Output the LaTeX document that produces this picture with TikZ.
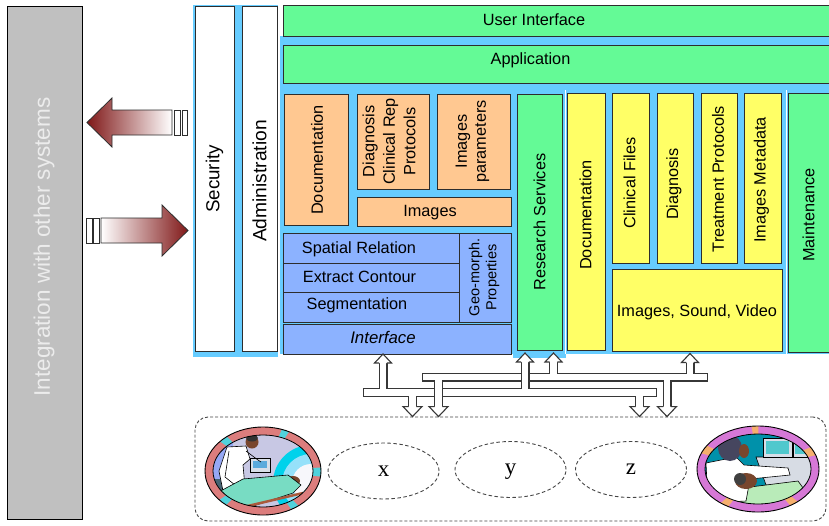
\documentclass[tikz,border=0pt]{standalone}
\usepackage{fontspec}
\setmainfont{Liberation Sans}
\newfontfamily\letterfont{Liberation Serif}
\usetikzlibrary{shapes.geometric,calc}

\definecolor{panelblue}{RGB}{102,204,255}
\definecolor{uigreen}{RGB}{100,250,150}
\definecolor{orangefill}{RGB}{255,200,145}
\definecolor{layerfill}{RGB}{140,178,255}
\definecolor{yellowfill}{RGB}{255,255,102}
\definecolor{sidegray}{RGB}{192,192,192}
\definecolor{sidetext}{RGB}{236,236,236}
\definecolor{edge}{RGB}{45,45,45}
\definecolor{arrred}{RGB}{128,24,24}
\definecolor{arrmid}{RGB}{205,160,160}
\definecolor{pipec}{RGB}{55,55,55}
\definecolor{zonegray}{RGB}{70,70,70}
% clip-art colours
\definecolor{ringsalmon}{RGB}{220,125,125}
\definecolor{ringcyan}{RGB}{80,210,220}
\definecolor{scenelav}{RGB}{200,200,228}
\definecolor{wallblue}{RGB}{150,168,245}
\definecolor{darkteal}{RGB}{70,100,115}
\definecolor{skin}{RGB}{120,70,45}
\definecolor{monitorgray}{RGB}{215,222,232}
\definecolor{screenblue}{RGB}{90,170,220}
\definecolor{scancyan}{RGB}{0,210,235}
\definecolor{scanlight}{RGB}{150,225,250}
\definecolor{mint}{RGB}{120,220,195}
\definecolor{bedbrown}{RGB}{170,90,60}
\definecolor{ringmag}{RGB}{214,120,214}
\definecolor{ringorange}{RGB}{245,175,110}
\definecolor{roomteal}{RGB}{0,145,170}
\definecolor{consolegray}{RGB}{215,220,228}
\definecolor{screencyan}{RGB}{80,200,205}
\definecolor{bedgreen}{RGB}{185,235,185}
\definecolor{hairslate}{RGB}{70,70,95}

\tikzset{
  boxbase/.style={draw=edge, line width=0.9pt, inner sep=0pt, outer sep=0pt},
  whitebox/.style={boxbase, fill=white},
  greenbox/.style={boxbase, fill=uigreen},
  orangebox/.style={boxbase, fill=orangefill},
  layerbox/.style={boxbase, fill=layerfill},
  yellowbox/.style={boxbase, fill=yellowfill},
  sidebox/.style={boxbase, fill=sidegray, draw=black},
  lab/.style={inner sep=0pt, font=\fontsize{16.3}{20}\selectfont},
  vlab/.style={lab, rotate=90, align=center},
  biglab/.style={inner sep=0pt, rotate=90, font=\fontsize{18.8}{22}\selectfont},
  pipeout/.style={draw=pipec, line width=9pt},
  pipein/.style={draw=white, line width=6.8pt},
  pipehead/.style={fill=white, draw=pipec, line width=1.1pt, line join=miter},
  bigarrow/.style={draw=edge, line width=0.8pt},
  tailbar/.style={draw=edge, fill=white, line width=0.8pt},
  zone/.style={ellipse, draw=zonegray, dash pattern=on 3.5pt off 2.5pt, line width=0.9pt,
    minimum width=111pt, minimum height=56pt, inner sep=0pt, text height=10pt, text depth=0pt,
    font=\letterfont\fontsize{23}{24}\selectfont},
  field/.style={draw=zonegray, dash pattern=on 3pt off 2pt, line width=0.9pt,
    rounded corners=13pt, inner sep=0pt},
  outline/.style={draw=black, line width=0.6pt}
}

% box from its corners: style, name, x1, y1, x2, y2
\newcommand\blockat[6]{\node[#1, minimum width={#5-#3}, minimum height={#6-#4}] (#2) at ({(#3+#5)/2},{(#4+#6)/2}) {};}
% hollow arrow heads of the data pipes
\newcommand\upheadat[1]{\filldraw[pipehead] ($(#1)+(-3.9,9)$) -- ($(#1)+(-8.5,9)$) -- (#1) -- ($(#1)+(8.5,9)$) -- ($(#1)+(3.9,9)$);}
\newcommand\downheadat[1]{\filldraw[pipehead] ($(#1)+(-3.9,-10)$) -- ($(#1)+(-9.5,-10)$) -- (#1) -- ($(#1)+(9.5,-10)$) -- ($(#1)+(3.9,-10)$);}

\begin{document}
\begin{tikzpicture}[x=1pt,y=-1pt]
\useasboundingbox (0,0) rectangle (829,525);
\fill[white] (0,0) rectangle (829,525);

% ---- external integration column
\blockat{sidebox}{side}{7}{6}{82}{519}
\node[biglab, text=sidetext, font=\fontsize{22.5}{26}\selectfont] (side-t) at (44,247) {Integration with other systems};

% ---- cross-cutting columns
\fill[panelblue] (193,5) rectangle (277.5,357);
\blockat{whitebox}{sec}{195}{6}{234}{351}
\blockat{whitebox}{adm}{242}{6}{277}{351}
\node[biglab] (sec-t) at (214.5,179) {Security};
\node[biglab, font=\fontsize{19.2}{22}\selectfont] (adm-t) at (259.5,181) {Administration};

% ---- exchange arrows
\path[bigarrow, left color=arrred, middle color=arrmid, right color=white]
  (87,122.5) -- (112,98) -- (112,110) -- (172,110) -- (172,135) -- (112,135) -- (112,147) -- cycle;
\draw[tailbar] (174,110) rectangle (180,135);
\draw[tailbar] (182,110) rectangle (187,135);
\path[bigarrow, left color=white, middle color=arrmid, right color=arrred]
  (188,230.5) -- (162,205) -- (162,218) -- (101,218) -- (101,243) -- (162,243) -- (162,256) -- cycle;
\draw[tailbar] (86,218) rectangle (92,243);
\draw[tailbar] (93.5,218) rectangle (99,243);

% ---- main stack
\fill[panelblue] (280,36) rectangle (829,354);
\fill[panelblue] (513,354) rectangle (566,358);
\draw[white, line width=1pt] (565.5,90) -- (565.5,354);
\draw[white, line width=1pt] (786,90) -- (786,354);

\blockat{greenbox}{ui}{283}{5}{829}{36}
\blockat{greenbox}{app}{283}{45}{829}{83}
\node[lab, anchor=base] (ui-t) at (534,25.5) {User Interface};
\node[lab, anchor=base] (app-t) at (530.5,64.5) {Application};

% imaging knowledge
\blockat{orangebox}{odoc}{284}{94}{348}{225}
\blockat{orangebox}{odiag}{357}{94}{429}{189}
\blockat{orangebox}{opar}{437}{94}{510}{189}
\blockat{orangebox}{oimg}{357}{197}{511}{226}
\node[vlab] (odoc-t) at (317,160) {Documentation};
\node[vlab, font=\fontsize{16.3}{20.5}\selectfont] (odiag-t) at (389,141.5) {Diagnosis\\Clinical Rep\\Protocols};
\node[vlab, font=\fontsize{16.3}{19}\selectfont] (opar-t) at (472.5,141.5) {Images\\parameters};
\node[lab, anchor=base] (oimg-t) at (430,216) {Images};

% image processing layers
\blockat{layerbox}{spat}{283}{233}{459}{263}
\blockat{layerbox}{extr}{283}{263}{459}{292}
\blockat{layerbox}{segm}{283}{292}{459}{322}
\blockat{layerbox}{geo}{459}{233}{511}{322}
\blockat{layerbox}{iface}{283}{324}{511}{354}
\node[lab, anchor=base] (spat-t) at (359,253.3) {Spatial Relation};
\node[lab, anchor=base] (extr-t) at (359.5,282.3) {Extract Contour};
\node[lab, anchor=base] (segm-t) at (357,309.5) {Segmentation};
\node[vlab, font=\fontsize{14.5}{17}\selectfont] (geo-t) at (484,277.5) {Geo-morph.\\Properties};
\node[lab, anchor=base, font=\fontsize{16.8}{20}\selectfont\itshape] (iface-t) at (383,343.5) {Interface};

% research and clinical records
\blockat{greenbox}{rs}{517}{94}{562}{350}
\node[vlab] (rs-t) at (539.5,222) {Research Services};
\blockat{yellowbox}{ydoc}{567}{93}{605}{350}
\node[vlab] (ydoc-t) at (585.5,215) {Documentation};
\blockat{yellowbox}{ycf}{612}{93}{649}{263}
\node[vlab] (ycf-t) at (629.5,183) {Clinical Files};
\blockat{yellowbox}{ydia}{657}{93}{693}{263}
\node[vlab] (ydia-t) at (674,184) {Diagnosis};
\blockat{yellowbox}{ytp}{701}{93}{737}{263}
\node[vlab] (ytp-t) at (718,179) {Treatment Protocols};
\blockat{yellowbox}{yim}{744}{93}{781}{263}
\node[vlab] (yim-t) at (761.5,180) {Images Metadata};
\blockat{yellowbox}{isv}{612}{269}{782}{351}
\node[lab, anchor=base] (isv-t) at (697,316) {Images, Sound, Video};
\blockat{greenbox}{mnt}{788}{93}{829}{352}
\node[vlab] (mnt-t) at (808.5,215) {Maintenance};

% ---- acquisition field
\node[field, minimum width=631pt, minimum height=104pt] (field) at (510.5,469) {};
\node[zone] (zx) at (383.5,471) {x};
\node[zone] (zy) at (510.5,469.5) {y};
\node[zone] (zz) at (631,469.5) {z};

% ---- data pipes
\coordinate (lowL) at (363,392.5);
\coordinate (lowR) at (657,392.5);
\coordinate (upL) at (422,377);
\coordinate (upR) at (708,377);
\coordinate (tA) at (383,0 |- iface.south);
\coordinate[yshift=-3pt] (tR1) at (525,0 |- rs.south);
\coordinate[yshift=-3pt] (tR2) at (553.5,0 |- rs.south);
\coordinate[yshift=-2.5pt] (tY) at (690,0 |- isv.south);
\coordinate (d1) at (412.5,0 |- field.north);
\coordinate (d2) at (438.5,0 |- field.north);
\coordinate (d3) at (639.5,0 |- field.north);
\coordinate (d4) at (667,0 |- field.north);
\coordinate (c2) at (d2 |- lowL);
\coordinate (cR) at (tR1 |- upL);

\foreach \t/\b in {tA/lowL, tR1/lowL, tR2/upL, tY/upL}
  {\draw[pipeout] ($(\t)+(0,8)$) -- (\t |- \b);}
\foreach \t/\b in {d1/lowL, d2/upL, d3/lowL, d4/upL}
  {\draw[pipeout] (\t |- \b) -- ($(\t)+(0,-9)$);}
\draw[pipeout] (lowL) -- (lowR);
\draw[pipeout] (upL) -- (upR);

\foreach \t/\b in {tA/lowL, tR1/lowL, tR2/upL, tY/upL}
  {\draw[pipein] ($(\t)+(0,8)$) -- (\t |- \b);}
\foreach \t/\b in {d1/lowL, d2/upL, d3/lowL, d4/upL}
  {\draw[pipein] (\t |- \b) -- ($(\t)+(0,-9)$);}
\draw[pipein] ($(lowL)+(1.1,0)$) -- ($(lowR)+(-1.1,0)$);
\draw[pipein] ($(upL)+(1.1,0)$) -- ($(upR)+(-1.1,0)$);

% pipes that pass over a bar
\foreach \c in {c2, cR} {
  \draw[pipeout] ($(\c)+(0,-5.5)$) -- ($(\c)+(0,5.5)$);
  \draw[pipein] ($(\c)+(0,-6.5)$) -- ($(\c)+(0,6.5)$);
}

\foreach \t in {tA, tR1, tR2, tY} {\upheadat{\t}}
\foreach \t in {d1, d2, d3, d4} {\downheadat{\t}}

% ---- clip art: scanner room
\begin{scope}[shift={(263,471)}]
  \begin{scope}
    \clip (0,0) ellipse [x radius=58pt, y radius=44pt];
    \fill[ringsalmon] (-60,-46) rectangle (60,46);
    \foreach \a in {219,299,1,142,49}
      {\fill[ringcyan] (0,0) -- (\a-4.5:80) -- (\a+4.5:80) -- cycle;}
  \end{scope}
  \draw[outline, line width=0.9pt] (0,0) ellipse [x radius=58pt, y radius=44pt];
  \begin{scope}
    \clip (0,0) ellipse [x radius=50pt, y radius=36pt];
    \fill[scenelav] (-60,-46) rectangle (60,46);
    \fill[wallblue] (-52,-40) rectangle (-30,8);
    \fill[darkteal] (-52,8) rectangle (-40,40);
    \fill[scancyan] (48,12) circle [radius=38pt];
    \fill[scanlight] (48,12) circle [radius=29pt];
    \fill[white!85!scenelav] (48,12) circle [radius=19pt];
    \filldraw[fill=monitorgray, outline] (-13,-13) rectangle (7,1);
    \fill[screenblue] (-10,-10) rectangle (4,-3);
    % doctor
    \filldraw[fill=white, outline] (-36,-24) -- (-17,-25) -- (-13,-12) -- (-20,-6) -- (-18,16) -- (-40,20) -- (-44,0) -- cycle;
    \draw[outline] (-34,-20) -- (-38,6) -- (-28,14);
    \draw[outline] (-17,-20) -- (-5,-11) -- (-2,-9);
    \fill[skin] (-11,-29) circle [radius=6.5pt];
    \fill[black!80] (-11,-33) ellipse [x radius=6pt, y radius=3.5pt];
    % patient
    \fill[skin] (30,10) ellipse [x radius=7pt, y radius=5pt];
    \filldraw[fill=mint, outline] (-50,24) -- (-20,8) -- (25,4) -- (38,14) -- (30,22) -- (-25,40) -- cycle;
    \draw[bedbrown, line width=2.5pt] (-28,38) -- (40,22);
  \end{scope}
  \draw[outline, line width=0.8pt] (0,0) ellipse [x radius=50pt, y radius=36pt];
\end{scope}

% ---- clip art: monitoring room
\begin{scope}[shift={(758,469)}]
  \begin{scope}
    \clip (0,0) ellipse [x radius=61pt, y radius=43pt];
    \fill[ringmag] (-63,-45) rectangle (63,45);
    \foreach \a in {266,200,342,133,44}
      {\fill[ringorange] (0,0) -- (\a-4.5:80) -- (\a+4.5:80) -- cycle;}
  \end{scope}
  \draw[outline, line width=0.9pt] (0,0) ellipse [x radius=61pt, y radius=43pt];
  \begin{scope}
    \clip (0,0) ellipse [x radius=53pt, y radius=35pt];
    \fill[roomteal] (-63,-45) rectangle (63,45);
    \filldraw[fill=consolegray, outline] (-2,-12) -- (56,-12) -- (58,20) -- (8,16) -- cycle;
    \filldraw[fill=monitorgray, outline] (5,-31) rectangle (34,-12);
    \fill[screencyan] (8,-28) rectangle (31,-15);
    \filldraw[fill=monitorgray, outline] (35,-29) rectangle (50,-12);
    \fill[screencyan] (37,-26) rectangle (48,-15);
    \filldraw[fill=bedgreen, outline] (-40,22) -- (40,12) -- (56,34) -- (-30,42) -- cycle;
    \filldraw[fill=white, outline] (-52,-6) -- (-22,-12) -- (-14,-4) -- (30,-1) -- (32,6) -- (-8,10) -- (-12,32) -- (-50,34) -- cycle;
    \fill[skin] (-12,12) ellipse [x radius=11pt, y radius=8pt];
    \fill[black!75] (-18,10) ellipse [x radius=6pt, y radius=6pt];
    \fill[hairslate] (-28,-21) ellipse [x radius=12pt, y radius=13pt];
    \fill[skin] (-14,-18) ellipse [x radius=5pt, y radius=7pt];
  \end{scope}
  \draw[outline, line width=0.8pt] (0,0) ellipse [x radius=53pt, y radius=35pt];
\end{scope}
\end{tikzpicture}
\end{document}
